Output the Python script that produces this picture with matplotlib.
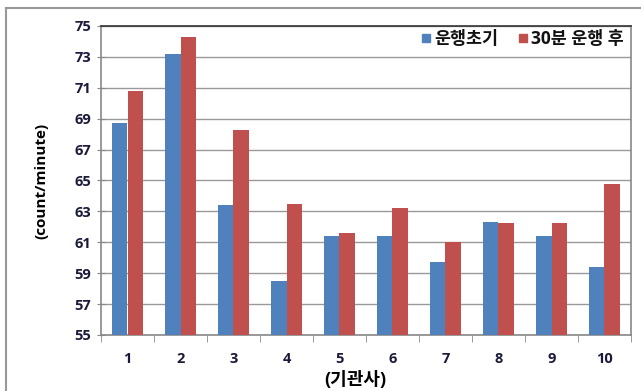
import matplotlib
matplotlib.use("Agg")
import matplotlib.pyplot as plt
import numpy as np
from matplotlib.lines import Line2D

plt.rcParams['font.family'] = ['Open Sans', 'Noto Sans CJK KR', 'DejaVu Sans']

categories = ['1', '2', '3', '4', '5', '6', '7', '8', '9', '10']
initial = [68.7, 73.2, 63.4, 58.5, 61.4, 61.4, 59.75, 62.3, 61.4, 59.4]
after30 = [70.8, 74.3, 68.25, 63.5, 61.6, 63.2, 61.0, 62.25, 62.25, 64.8]
series_names = ['운행초기', '30분 운행 후']
yticks = [55, 57, 59, 61, 63, 65, 67, 69, 71, 73, 75]

blue = '#4F81BD'
red = '#C0504D'

fig = plt.figure(figsize=(6.41, 3.91), dpi=100)
ax = fig.add_axes([101/641, 1-335/391, 530/641, 309/391])

x = np.arange(1, len(categories)+1)
w = 0.285
ax.bar(x - w/2, initial, width=w, color=blue, zorder=3)
ax.bar(x + w/2, after30, width=w, color=red, zorder=3)

ax.set_ylim(55, 75)
ax.set_xlim(0.5, 10.5)
ax.set_yticks(yticks)
ax.set_yticklabels([str(v) for v in yticks], fontsize=10.5, fontweight='bold', color='#1a1a3a')
ax.set_xticks(x)
ax.set_xticklabels(categories, fontsize=10.5, fontweight='bold', color='#1a1a3a')
ax.set_xticks(np.arange(0.5, 11.0, 1.0), minor=True)
ax.tick_params(axis='x', which='major', length=0, pad=12)
ax.tick_params(axis='x', which='minor', length=5, color='#888888', direction='out')
ax.tick_params(axis='y', length=6, color='#888888', direction='inout', pad=4)
ax.grid(axis='y', color='#999999', linewidth=1.0, zorder=0)

for s in ['left', 'bottom', 'right']:
    ax.spines[s].set_color('#888888')
    ax.spines[s].set_linewidth(1.2)
ax.spines['top'].set_color('#333333')
ax.spines['top'].set_linewidth(1.2)

ax.set_ylabel('(count/minute)', fontsize=11, fontweight='bold')
ax.yaxis.set_label_coords(-0.1, 0.5)
ax.set_xlabel('(기관사)', fontsize=13, fontweight='bold')
ax.xaxis.set_label_coords(0.48, -0.115)

handles = [Line2D([], [], marker='s', linestyle='none', color=blue, markersize=6),
           Line2D([], [], marker='s', linestyle='none', color=red, markersize=6)]
leg = ax.legend(handles, series_names, loc='upper right', ncol=2, frameon=False,
                prop={'weight': 'bold', 'size': 12.5}, handletextpad=0.1,
                columnspacing=1.0, borderaxespad=0.0, handlelength=0.8,
                bbox_to_anchor=(1.0, 1.01))
for t in leg.get_texts():
    t.set_color('#111111')

# outer chart frame
fig.add_artist(Line2D([6/641, 6/641], [0, 1-8/391], transform=fig.transFigure, color='#999999', lw=1.5))
fig.add_artist(Line2D([6/641, 1], [1-8/391, 1-8/391], transform=fig.transFigure, color='#999999', lw=1.5))

fig.savefig('out.png', dpi=100)
